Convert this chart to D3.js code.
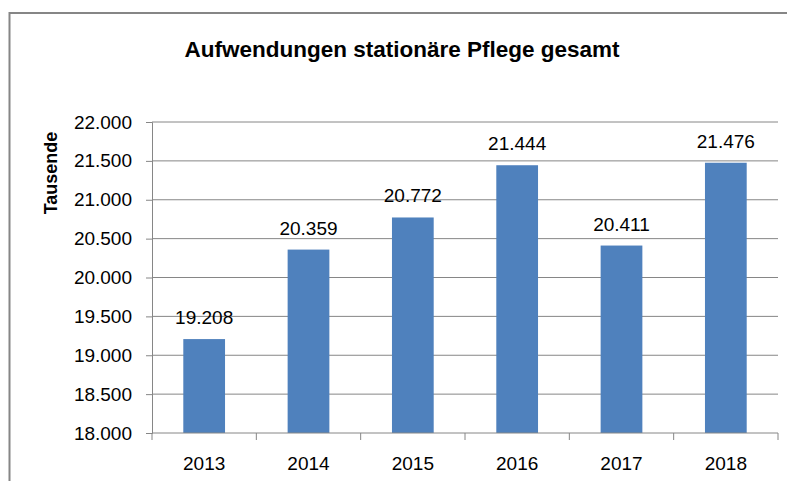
<!DOCTYPE html>
<html>
<head>
<meta charset="utf-8">
<script src="https://cdn.jsdelivr.net/npm/d3@7"></script>
<style>
  body { margin: 0; background: #fff; }
  svg { display: block; font-family: "Liberation Sans", Arial, sans-serif; }
  .axis path, .axis line { stroke: #868686; }
  .axis text { fill: #000; }
</style>
</head>
<body>
<div class="chart"></div>
<script>
"use strict";

// Data
const years = ["2013", "2014", "2015", "2016", "2017", "2018"];
const values = [19208, 20359, 20772, 21444, 20411, 21476];
const yTicks = [18000, 18500, 19000, 19500, 20000, 20500, 21000, 21500, 22000];

const data = years.map((year, i) => ({ year, value: values[i] }));

const width = 787;
const height = 481;
const margin = { top: 122, right: 9, bottom: 48, left: 152 };
const innerWidth = width - margin.left - margin.right;
const innerHeight = height - margin.top - margin.bottom;

const fmt = v => d3.format(",.0f")(v).replace(/,/g, ".");

const svg = d3.select(".chart")
  .append("svg")
    .attr("width", width)
    .attr("height", height);

// Outer chart frame, only the top and left edges are visible
svg.append("path")
  .attr("d", `M9.5,${height} V13 H${width}`)
  .attr("fill", "none")
  .attr("stroke", "#868686")
  .attr("stroke-width", 2);

svg.append("text")
  .attr("x", 402)
  .attr("y", 57)
  .attr("text-anchor", "middle")
  .attr("font-size", 22.5)
  .attr("font-weight", "bold")
  .text("Aufwendungen stationäre Pflege gesamt");

const innerChart = svg.append("g")
  .attr("transform", `translate(${margin.left}, ${margin.top})`);

const xScale = d3.scaleBand()
  .domain(years)
  .range([0, innerWidth])
  .paddingInner(0.6)
  .paddingOuter(0.3);

const xTicks = d3.scaleBand()
  .domain(years)
  .range([0, innerWidth]);

const yScale = d3.scaleLinear()
  .domain([18000, 22000])
  .range([innerHeight, 0]);

// Gridlines
innerChart.append("g")
  .selectAll("line")
  .data(yTicks.slice(1))
  .join("line")
    .attr("x1", 0)
    .attr("x2", innerWidth)
    .attr("y1", d => yScale(d))
    .attr("y2", d => yScale(d))
    .attr("stroke", "#868686")
    .attr("stroke-width", 1);

// Bars
innerChart.selectAll("rect.bar")
  .data(data)
  .join("rect")
    .attr("class", "bar")
    .attr("x", d => xScale(d.year))
    .attr("y", d => yScale(d.value))
    .attr("width", xScale.bandwidth())
    .attr("height", d => innerHeight - yScale(d.value))
    .attr("fill", "#4F81BD");

// Data labels
innerChart.selectAll("text.label")
  .data(data)
  .join("text")
    .attr("class", "label")
    .attr("x", d => xScale(d.year) + xScale.bandwidth() / 2)
    .attr("y", d => yScale(d.value) - 15)
    .attr("text-anchor", "middle")
    .attr("font-size", 19)
    .text(d => fmt(d.value));

// Axes
const yAxis = d3.axisLeft(yScale)
  .tickValues(yTicks)
  .tickFormat(fmt)
  .tickSizeOuter(0)
  .tickSize(6)
  .tickPadding(14);

innerChart.append("g")
  .attr("class", "axis")
  .call(yAxis)
  .attr("font-size", 19)
  .attr("font-family", null);

const xAxisG = innerChart.append("g")
  .attr("class", "axis")
  .attr("transform", `translate(0, ${innerHeight})`);

xAxisG.append("line")
  .attr("x1", 0)
  .attr("x2", innerWidth)
  .attr("stroke", "#868686");

xAxisG.selectAll("line.tick")
  .data(years.concat(["end"]))
  .join("line")
    .attr("class", "tick")
    .attr("x1", (d, i) => i < years.length ? xTicks(d) : innerWidth)
    .attr("x2", (d, i) => i < years.length ? xTicks(d) : innerWidth)
    .attr("y1", 0)
    .attr("y2", 7)
    .attr("stroke", "#868686");

xAxisG.selectAll("text")
  .data(years)
  .join("text")
    .attr("x", d => xTicks(d) + xTicks.bandwidth() / 2)
    .attr("y", 37)
    .attr("text-anchor", "middle")
    .attr("font-size", 19)
    .text(d => d);

svg.append("text")
  .attr("transform", "translate(57, 173) rotate(-90)")
  .attr("text-anchor", "middle")
  .attr("font-size", 18)
  .attr("font-weight", "bold")
  .text("Tausende");
</script>
</body>
</html>
